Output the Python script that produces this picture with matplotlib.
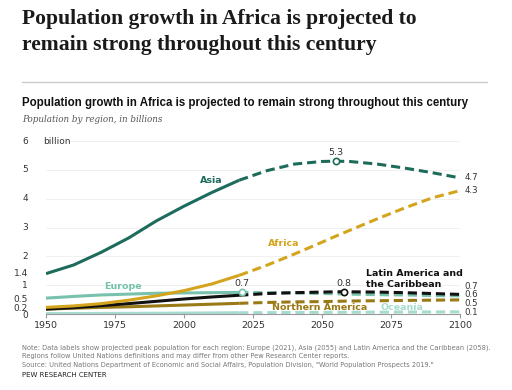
import matplotlib.pyplot as plt

# data (billions), UN WPP 2019 style estimates
years = [1950, 1960, 1970, 1980, 1990, 2000, 2010, 2020, 2030, 2040, 2050, 2055, 2060, 2070, 2080, 2090, 2100]
asia = [1.40, 1.70, 2.14, 2.64, 3.23, 3.74, 4.21, 4.64, 4.97, 5.20, 5.29, 5.30, 5.29, 5.20, 5.06, 4.90, 4.72]
africa = [0.23, 0.28, 0.36, 0.48, 0.63, 0.81, 1.04, 1.34, 1.69, 2.08, 2.49, 2.70, 2.90, 3.30, 3.68, 4.03, 4.28]
europe = [0.55, 0.61, 0.66, 0.69, 0.72, 0.73, 0.74, 0.75, 0.74, 0.73, 0.71, 0.70, 0.69, 0.67, 0.66, 0.64, 0.63]
latam = [0.17, 0.22, 0.29, 0.36, 0.44, 0.52, 0.59, 0.65, 0.71, 0.74, 0.76, 0.77, 0.77, 0.76, 0.74, 0.71, 0.68]
n_america = [0.17, 0.20, 0.23, 0.25, 0.28, 0.31, 0.34, 0.37, 0.40, 0.42, 0.43, 0.44, 0.45, 0.46, 0.47, 0.48, 0.49]
oceania = [0.013, 0.016, 0.020, 0.023, 0.027, 0.031, 0.037, 0.043, 0.048, 0.053, 0.057, 0.059, 0.061, 0.064, 0.068, 0.071, 0.075]

peaks = [(2021, 0.75, '0.7'), (2055, 5.30, '5.3'), (2058, 0.77, '0.8')]
end_labels = ['4.7', '4.3', '0.7', '0.6', '0.5', '0.1']
y_ticks = [0, 0.2, 0.5, 1, 1.4, 2, 3, 4, 5, 6]
y_tick_labels = ['0', '0.2', '0.5', '1', '1.4', '2', '3', '4', '5', '6']
x_ticks = [1950, 1975, 2000, 2025, 2050, 2075, 2100]

c_asia = '#1d6b5b'
c_africa = '#d4a41c'
c_europe = '#78c2ad'
c_latam = '#111111'
c_na = '#9a7a16'
c_oce = '#a6dbcf'

W, H = 512, 390
fig = plt.figure(figsize=(W / 100, H / 100), dpi=100)
fig.patch.set_facecolor('white')

def px(x, y):
    return x / W, 1 - y / H

# headline
fig.text(*px(22, 9), 'Population growth in Africa is projected to\nremain strong throughout this century',
         family='Liberation Serif', fontsize=15.6, weight='bold', va='top', ha='left',
         linespacing=1.4, color='#1a1a1a')
fig.add_artist(plt.Line2D([22 / W, 487 / W], [1 - 82 / H] * 2, color='#cccccc', lw=1))

fig.text(*px(22, 103), 'Population growth in Africa is projected to remain strong throughout this century',
         family='Liberation Sans', fontsize=8.3, weight='bold', va='center', ha='left', color='#111111')
fig.text(*px(22, 120), 'Population by region, in billions', family='DejaVu Serif', style='italic',
         fontsize=6.3, va='center', ha='left', color='#555555')

ax = fig.add_axes([46 / W, 1 - 314 / H, (460 - 46) / W, (314 - 141) / H])
ax.set_xlim(1950, 2100)
ax.set_ylim(0, 6)
ax.set_facecolor('none')
for s in ['top', 'right', 'left']:
    ax.spines[s].set_visible(False)
ax.spines['bottom'].set_color('#999999')
ax.spines['bottom'].set_linewidth(0.8)

for g in [1, 2, 3, 4, 5]:
    ax.axhline(g, color='#eeeeee', lw=0.6, zorder=0)
ax.axhline(6, xmin=0.05, color='#eeeeee', lw=0.6, zorder=0)

ax.set_xticks(x_ticks)
ax.set_xticklabels([str(x) for x in x_ticks])
ax.tick_params(axis='x', length=3, color='#999999', labelsize=6.8, pad=2, labelcolor='#333333')
ax.set_yticks(y_ticks)
ax.set_yticklabels([])
ax.tick_params(axis='y', length=0)
# left labels, nudged apart slightly where they crowd
nudge = {0: -0.06, 0.2: 0.2, 0.5: 0.52}
for v, t in zip(y_ticks, y_tick_labels):
    ax.text(1943.5, nudge.get(v, v), t, fontsize=6.5, ha='right', va='center', color='#333333', clip_on=False)
ax.text(1949, 6, 'billion', fontsize=6.5, va='center', ha='left', color='#333333')

series = [(oceania, c_oce), (n_america, c_na), (europe, c_europe), (latam, c_latam),
          (africa, c_africa), (asia, c_asia)]
split = years.index(2020)
for vals, col in series:
    ax.plot(years[:split + 1], vals[:split + 1], color=col, lw=2.2, solid_capstyle='butt')
    ax.plot(years[split:], vals[split:], color=col, lw=2.2, dashes=(3, 1.6), dash_capstyle='butt')

# peak markers
peak_cols = [c_europe, c_asia, c_latam]
for (yr, v, t), col in zip(peaks, peak_cols):
    ax.plot(yr, v, 'o', ms=4.5, mfc='white', mec=col, mew=1.2, zorder=5)
    ax.text(yr, v + 0.14, t, fontsize=6.8, ha='center', va='bottom', color='#333333')

# end labels (spread a little so they stay legible)
end_y = [4.72, 4.28, 0.94, 0.66, 0.38, 0.06]
for yv, t in zip(end_y, end_labels):
    ax.text(2101.5, yv, t, fontsize=6.2, ha='left', va='center', color='#333333', clip_on=False)

# region labels
ax.text(2010, 4.63, 'Asia', fontsize=6.8, weight='bold', color=c_asia, ha='center', va='center')
ax.text(2036, 2.44, 'Africa', fontsize=6.8, weight='bold', color=c_africa, ha='center', va='center')
ax.text(1978, 0.94, 'Europe', fontsize=6.8, weight='bold', color=c_europe, ha='center', va='center')
ax.text(2066, 1.22, 'Latin America and\nthe Caribbean', fontsize=6.8, weight='bold', color=c_latam,
        ha='left', va='center', linespacing=1.2)
ax.text(2049, 0.22, 'Northern America', fontsize=6.8, weight='bold', color=c_na, ha='center', va='center')
ax.text(2079, 0.22, 'Oceania', fontsize=6.8, weight='bold', color=c_oce, ha='center', va='center')

# notes
fig.text(*px(22, 356), 'Note: Data labels show projected peak population for each region: Europe (2021), Asia (2055) and Latin America and the Caribbean (2058).\n'
         'Regions follow United Nations definitions and may differ from other Pew Research Center reports.\n'
         'Source: United Nations Department of Economic and Social Affairs, Population Division, "World Population Prospects 2019."',
         fontsize=4.75, color='#777777', va='center', ha='left', linespacing=1.5)
fig.text(*px(22, 375), 'PEW RESEARCH CENTER', fontsize=5, color='#222222', va='center', ha='left')

fig.savefig('out.png', dpi=100)
